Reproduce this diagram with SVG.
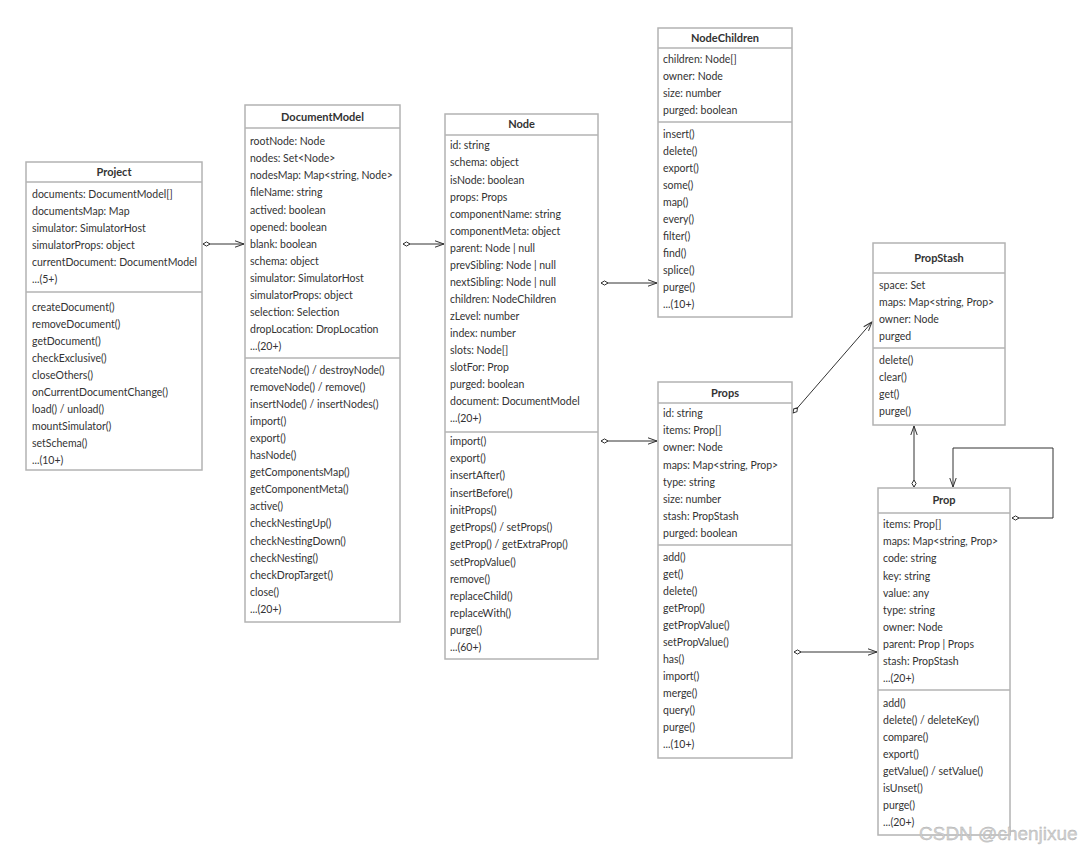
<svg xmlns="http://www.w3.org/2000/svg" width="1083" height="848" viewBox="0 0 1083 848">
<style>
.box{fill:#fff;stroke:#b3b3b3;stroke-width:1.5}
.sep{stroke:#b3b3b3;stroke-width:1.5}
.t{font-family:Lato,"Liberation Sans",sans-serif;font-size:10.5px;fill:#333}
.h{font-family:Lato,"Liberation Sans",sans-serif;font-size:11px;font-weight:bold;fill:#333;text-anchor:middle}
.c{fill:none;stroke:#333;stroke-width:1}
.wm{font-family:"Liberation Sans",Arial,sans-serif;font-size:19px;fill:#d0d0d0;stroke:#aaa;stroke-width:0.3}
</style>
<defs>
<marker id="dia" markerWidth="9" markerHeight="7" refX="0" refY="3" orient="auto" markerUnits="userSpaceOnUse" overflow="visible">
<path d="M0,3 L3.5,0.9 L7,3 L3.5,5.1 Z" fill="#fff" stroke="#333" stroke-width="1"/>
</marker>
<marker id="arr" markerWidth="10" markerHeight="8" refX="9" refY="4" orient="auto" markerUnits="userSpaceOnUse" overflow="visible">
<path d="M0,0.8 L9,4 L0,7.2" fill="none" stroke="#333" stroke-width="1"/>
</marker>
</defs>
<rect width="1083" height="848" fill="#fff"/>

<g id="connectors">
<path class="c" d="M203,244 H244" marker-start="url(#dia)" marker-end="url(#arr)"/>
<path class="c" d="M403,244 H444" marker-start="url(#dia)" marker-end="url(#arr)"/>
<path class="c" d="M601,283 H657" marker-start="url(#dia)" marker-end="url(#arr)"/>
<path class="c" d="M601,441 H657" marker-start="url(#dia)" marker-end="url(#arr)"/>
<path class="c" d="M793,413 L872,322" marker-start="url(#dia)" marker-end="url(#arr)"/>
<path class="c" d="M794,652 H877" marker-start="url(#dia)" marker-end="url(#arr)"/>
<path class="c" d="M914,487 V426" marker-start="url(#dia)" marker-end="url(#arr)"/>
<path class="c" d="M1012,518 H1053 V448 H953 V487" marker-start="url(#dia)" marker-end="url(#arr)"/>
</g>

<g id="Project">
<rect class="box" x="26" y="162" width="176" height="308"/>
<line class="sep" x1="26" y1="182" x2="202" y2="182"/>
<line class="sep" x1="26" y1="292" x2="202" y2="292"/>
<text class="h" x="114" y="176">Project</text>
<text class="t" x="32" y="198">documents: DocumentModel[]</text>
<text class="t" x="32" y="215">documentsMap: Map</text>
<text class="t" x="32" y="232">simulator: SimulatorHost</text>
<text class="t" x="32" y="249">simulatorProps: object</text>
<text class="t" x="32" y="266">currentDocument: DocumentModel</text>
<text class="t" x="32" y="283">...(5+)</text>
<text class="t" x="32" y="311">createDocument()</text>
<text class="t" x="32" y="328">removeDocument()</text>
<text class="t" x="32" y="345">getDocument()</text>
<text class="t" x="32" y="362">checkExclusive()</text>
<text class="t" x="32" y="379">closeOthers()</text>
<text class="t" x="32" y="396">onCurrentDocumentChange()</text>
<text class="t" x="32" y="413">load() / unload()</text>
<text class="t" x="32" y="430">mountSimulator()</text>
<text class="t" x="32" y="447">setSchema()</text>
<text class="t" x="32" y="464">...(10+)</text>
</g>

<g id="DocumentModel">
<rect class="box" x="245" y="105" width="155" height="517"/>
<line class="sep" x1="245" y1="128" x2="400" y2="128"/>
<line class="sep" x1="245" y1="358" x2="400" y2="358"/>
<text class="h" x="322.5" y="121">DocumentModel</text>
<text class="t" x="250" y="145">rootNode: Node</text>
<text class="t" x="250" y="162">nodes: Set&lt;Node&gt;</text>
<text class="t" x="250" y="179">nodesMap: Map&lt;string, Node&gt;</text>
<text class="t" x="250" y="196">fileName: string</text>
<text class="t" x="250" y="214">actived: boolean</text>
<text class="t" x="250" y="231">opened: boolean</text>
<text class="t" x="250" y="248">blank: boolean</text>
<text class="t" x="250" y="265">schema: object</text>
<text class="t" x="250" y="282">simulator: SimulatorHost</text>
<text class="t" x="250" y="299">simulatorProps: object</text>
<text class="t" x="250" y="316">selection: Selection</text>
<text class="t" x="250" y="333">dropLocation: DropLocation</text>
<text class="t" x="250" y="350">...(20+)</text>
<text class="t" x="250" y="374">createNode() / destroyNode()</text>
<text class="t" x="250" y="391">removeNode() / remove()</text>
<text class="t" x="250" y="408">insertNode() / insertNodes()</text>
<text class="t" x="250" y="425">import()</text>
<text class="t" x="250" y="442">export()</text>
<text class="t" x="250" y="459">hasNode()</text>
<text class="t" x="250" y="476">getComponentsMap()</text>
<text class="t" x="250" y="493">getComponentMeta()</text>
<text class="t" x="250" y="510">active()</text>
<text class="t" x="250" y="527">checkNestingUp()</text>
<text class="t" x="250" y="545">checkNestingDown()</text>
<text class="t" x="250" y="562">checkNesting()</text>
<text class="t" x="250" y="579">checkDropTarget()</text>
<text class="t" x="250" y="596">close()</text>
<text class="t" x="250" y="613">...(20+)</text>
</g>

<g id="Node">
<rect class="box" x="445" y="114" width="153" height="545"/>
<line class="sep" x1="445" y1="135" x2="598" y2="135"/>
<line class="sep" x1="445" y1="432" x2="598" y2="432"/>
<text class="h" x="521.5" y="128">Node</text>
<text class="t" x="450" y="149">id: string</text>
<text class="t" x="450" y="166">schema: object</text>
<text class="t" x="450" y="184">isNode: boolean</text>
<text class="t" x="450" y="201">props: Props</text>
<text class="t" x="450" y="218">componentName: string</text>
<text class="t" x="450" y="235">componentMeta: object</text>
<text class="t" x="450" y="252">parent: Node | null</text>
<text class="t" x="450" y="269">prevSibling: Node | null</text>
<text class="t" x="450" y="286">nextSibling: Node | null</text>
<text class="t" x="450" y="303">children: NodeChildren</text>
<text class="t" x="450" y="320">zLevel: number</text>
<text class="t" x="450" y="337">index: number</text>
<text class="t" x="450" y="354">slots: Node[]</text>
<text class="t" x="450" y="371">slotFor: Prop</text>
<text class="t" x="450" y="388">purged: boolean</text>
<text class="t" x="450" y="405">document: DocumentModel</text>
<text class="t" x="450" y="422">...(20+)</text>
<text class="t" x="450" y="445">import()</text>
<text class="t" x="450" y="462">export()</text>
<text class="t" x="450" y="479">insertAfter()</text>
<text class="t" x="450" y="497">insertBefore()</text>
<text class="t" x="450" y="514">initProps()</text>
<text class="t" x="450" y="531">getProps() / setProps()</text>
<text class="t" x="450" y="548">getProp() / getExtraProp()</text>
<text class="t" x="450" y="566">setPropValue()</text>
<text class="t" x="450" y="583">remove()</text>
<text class="t" x="450" y="600">replaceChild()</text>
<text class="t" x="450" y="617">replaceWith()</text>
<text class="t" x="450" y="634">purge()</text>
<text class="t" x="450" y="651">...(60+)</text>
</g>

<g id="NodeChildren">
<rect class="box" x="658" y="28" width="134" height="289"/>
<line class="sep" x1="658" y1="48" x2="792" y2="48"/>
<line class="sep" x1="658" y1="122" x2="792" y2="122"/>
<text class="h" x="725" y="42">NodeChildren</text>
<text class="t" x="663" y="63">children: Node[]</text>
<text class="t" x="663" y="80">owner: Node</text>
<text class="t" x="663" y="97">size: number</text>
<text class="t" x="663" y="114">purged: boolean</text>
<text class="t" x="663" y="138">insert()</text>
<text class="t" x="663" y="155">delete()</text>
<text class="t" x="663" y="172">export()</text>
<text class="t" x="663" y="189">some()</text>
<text class="t" x="663" y="206">map()</text>
<text class="t" x="663" y="223">every()</text>
<text class="t" x="663" y="240">filter()</text>
<text class="t" x="663" y="257">find()</text>
<text class="t" x="663" y="274">splice()</text>
<text class="t" x="663" y="291">purge()</text>
<text class="t" x="663" y="308">...(10+)</text>
</g>

<g id="PropStash">
<rect class="box" x="873" y="243" width="132" height="182"/>
<line class="sep" x1="873" y1="273" x2="1005" y2="273"/>
<line class="sep" x1="873" y1="348" x2="1005" y2="348"/>
<text class="h" x="939" y="262">PropStash</text>
<text class="t" x="879" y="289">space: Set</text>
<text class="t" x="879" y="306">maps: Map&lt;string, Prop&gt;</text>
<text class="t" x="879" y="323">owner: Node</text>
<text class="t" x="879" y="340">purged</text>
<text class="t" x="879" y="364">delete()</text>
<text class="t" x="879" y="381">clear()</text>
<text class="t" x="879" y="398">get()</text>
<text class="t" x="879" y="415">purge()</text>
</g>

<g id="Props">
<rect class="box" x="658" y="382" width="134" height="376"/>
<line class="sep" x1="658" y1="403" x2="792" y2="403"/>
<line class="sep" x1="658" y1="545" x2="792" y2="545"/>
<text class="h" x="725" y="397">Props</text>
<text class="t" x="663" y="417">id: string</text>
<text class="t" x="663" y="434">items: Prop[]</text>
<text class="t" x="663" y="451">owner: Node</text>
<text class="t" x="663" y="469">maps: Map&lt;string, Prop&gt;</text>
<text class="t" x="663" y="486">type: string</text>
<text class="t" x="663" y="503">size: number</text>
<text class="t" x="663" y="520">stash: PropStash</text>
<text class="t" x="663" y="537">purged: boolean</text>
<text class="t" x="663" y="561">add()</text>
<text class="t" x="663" y="578">get()</text>
<text class="t" x="663" y="595">delete()</text>
<text class="t" x="663" y="612">getProp()</text>
<text class="t" x="663" y="629">getPropValue()</text>
<text class="t" x="663" y="646">setPropValue()</text>
<text class="t" x="663" y="663">has()</text>
<text class="t" x="663" y="680">import()</text>
<text class="t" x="663" y="697">merge()</text>
<text class="t" x="663" y="714">query()</text>
<text class="t" x="663" y="731">purge()</text>
<text class="t" x="663" y="748">...(10+)</text>
</g>

<g id="Prop">
<rect class="box" x="878" y="488" width="132" height="347"/>
<line class="sep" x1="878" y1="513" x2="1010" y2="513"/>
<line class="sep" x1="878" y1="690" x2="1010" y2="690"/>
<text class="h" x="944" y="504">Prop</text>
<text class="t" x="883" y="528">items: Prop[]</text>
<text class="t" x="883" y="545">maps: Map&lt;string, Prop&gt;</text>
<text class="t" x="883" y="562">code: string</text>
<text class="t" x="883" y="580">key: string</text>
<text class="t" x="883" y="597">value: any</text>
<text class="t" x="883" y="614">type: string</text>
<text class="t" x="883" y="631">owner: Node</text>
<text class="t" x="883" y="648">parent: Prop | Props</text>
<text class="t" x="883" y="665">stash: PropStash</text>
<text class="t" x="883" y="682">...(20+)</text>
<text class="t" x="883" y="707">add()</text>
<text class="t" x="883" y="724">delete() / deleteKey()</text>
<text class="t" x="883" y="741">compare()</text>
<text class="t" x="883" y="758">export()</text>
<text class="t" x="883" y="775">getValue() / setValue()</text>
<text class="t" x="883" y="792">isUnset()</text>
<text class="t" x="883" y="809">purge()</text>
<text class="t" x="883" y="826">...(20+)</text>
</g>

<text class="wm" x="919" y="840">CSDN @chenjixue</text>
</svg>
